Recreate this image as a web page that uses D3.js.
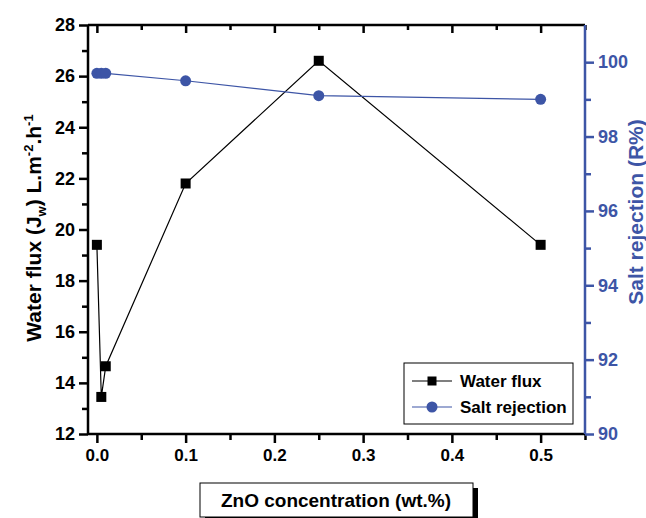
<!DOCTYPE html>
<html>
<head>
<meta charset="utf-8">
<script src="https://cdn.jsdelivr.net/npm/d3@7"></script>
<style>
  body { margin: 0; background: #fff; }
  text { font-family: "Liberation Sans", Arial, sans-serif; font-weight: bold; }
</style>
</head>
<body>
<div id="chart"></div>
<script>
// data
const conc = [0, 0.005, 0.01, 0.1, 0.25, 0.5];
const waterFlux = [19.4, 13.45, 14.65, 21.8, 26.6, 19.4];
const saltRejection = [99.7, 99.7, 99.7, 99.5, 99.1, 99.0];

const xTicks = [0, 0.1, 0.2, 0.3, 0.4, 0.5];
const xMinor = [0.05, 0.15, 0.25, 0.35, 0.45, 0.55];
const yLeftTicks = [12, 14, 16, 18, 20, 22, 24, 26, 28];
const yLeftMinor = [13, 15, 17, 19, 21, 23, 25, 27];
const yRightTicks = [90, 92, 94, 96, 98, 100];
const yRightMinor = [91, 93, 95, 97, 99];

const blue = "#3d55a6";
const W = 646, H = 518;
const margin = {top: 25, right: 61, bottom: 84, left: 88};
const width = W - margin.left - margin.right;
const height = H - margin.top - margin.bottom;

const svg = d3.select("#chart").append("svg")
    .attr("width", W)
    .attr("height", H);

const g = svg.append("g")
    .attr("transform", `translate(${margin.left},${margin.top})`);

const x = d3.scaleLinear().domain([-0.01, 0.55]).range([0, width]);
const yL = d3.scaleLinear().domain([12, 28]).range([height, 0]);
const yR = d3.scaleLinear().domain([90, 101]).range([height, 0]);

// axes: major + minor ticks
function styleAxis(sel, color) {
    sel.select(".domain").remove();
    sel.selectAll("line").attr("stroke", color).attr("stroke-width", 2.5);
    sel.selectAll("text").attr("fill", color);
}

// bottom
g.append("g").attr("transform", `translate(0,${height})`)
    .call(d3.axisBottom(x).tickValues(xMinor).tickSize(6).tickFormat(""))
    .call(s => styleAxis(s, "#000"));
g.append("g").attr("transform", `translate(0,${height})`)
    .call(d3.axisBottom(x).tickValues(xTicks).tickSize(9).tickPadding(6).tickFormat(d3.format(".1f")))
    .call(s => styleAxis(s, "#000"))
    .selectAll("text").style("font-size", "17px");

// top (inward ticks, no labels)
g.append("g")
    .call(d3.axisTop(x).tickValues(xMinor).tickSize(-5).tickFormat(""))
    .call(s => styleAxis(s, "#000"));
g.append("g")
    .call(d3.axisTop(x).tickValues(xTicks).tickSize(-8).tickFormat(""))
    .call(s => styleAxis(s, "#000"));

// left
g.append("g")
    .call(d3.axisLeft(yL).tickValues(yLeftMinor).tickSize(6).tickFormat(""))
    .call(s => styleAxis(s, "#000"));
g.append("g")
    .call(d3.axisLeft(yL).tickValues(yLeftTicks).tickSize(9).tickPadding(4).tickFormat(d3.format("d")))
    .call(s => styleAxis(s, "#000"))
    .selectAll("text").style("font-size", "18px");

// right
g.append("g").attr("transform", `translate(${width},0)`)
    .call(d3.axisRight(yR).tickValues(yRightMinor).tickSize(6).tickFormat(""))
    .call(s => styleAxis(s, blue));
g.append("g").attr("transform", `translate(${width},0)`)
    .call(d3.axisRight(yR).tickValues(yRightTicks).tickSize(9).tickPadding(4).tickFormat(d3.format("d")))
    .call(s => styleAxis(s, blue))
    .selectAll("text").style("font-size", "18px");

// frame lines
g.append("line").attr("x1", 0).attr("x2", width).attr("y1", 0).attr("y2", 0)
    .attr("stroke", "#000").attr("stroke-width", 2.5);
g.append("line").attr("x1", 0).attr("x2", width).attr("y1", height).attr("y2", height)
    .attr("stroke", "#000").attr("stroke-width", 2.5);
g.append("line").attr("x1", 0).attr("x2", 0).attr("y1", 0).attr("y2", height)
    .attr("stroke", "#000").attr("stroke-width", 2.5);
g.append("line").attr("x1", width).attr("x2", width).attr("y1", 0).attr("y2", height)
    .attr("stroke", blue).attr("stroke-width", 2.5);

// series
const fluxData = conc.map((c, i) => ({x: c, y: waterFlux[i]}));
const saltData = conc.map((c, i) => ({x: c, y: saltRejection[i]}));

g.append("path").datum(fluxData)
    .attr("fill", "none").attr("stroke", "#000").attr("stroke-width", 1.2)
    .attr("d", d3.line().x(d => x(d.x)).y(d => yL(d.y)));
g.selectAll(".sq").data(fluxData).enter().append("rect")
    .attr("class", "sq")
    .attr("x", d => x(d.x) - 5).attr("y", d => yL(d.y) - 5)
    .attr("width", 10).attr("height", 10)
    .attr("fill", "#000");

g.append("path").datum(saltData)
    .attr("fill", "none").attr("stroke", blue).attr("stroke-width", 1.2)
    .attr("d", d3.line().x(d => x(d.x)).y(d => yR(d.y)));
g.selectAll(".dot").data(saltData).enter().append("circle")
    .attr("class", "dot")
    .attr("cx", d => x(d.x)).attr("cy", d => yR(d.y))
    .attr("r", 5.5)
    .attr("fill", blue);

// legend
const leg = svg.append("g").attr("transform", "translate(404,363)");
leg.append("rect").attr("width", 169).attr("height", 61)
    .attr("fill", "#fff").attr("stroke", "#000").attr("stroke-width", 1);
const legItems = [
    {label: "Water flux", color: "#000", shape: "sq"},
    {label: "Salt rejection", color: blue, shape: "dot"}
];
legItems.forEach((it, i) => {
    const yy = 18 + i * 26;
    leg.append("line").attr("x1", 8).attr("x2", 48).attr("y1", yy).attr("y2", yy)
        .attr("stroke", it.color).attr("stroke-width", 1.2);
    if (it.shape === "sq") {
        leg.append("rect").attr("x", 28 - 4.5).attr("y", yy - 4.5)
            .attr("width", 9).attr("height", 9).attr("fill", it.color);
    } else {
        leg.append("circle").attr("cx", 28).attr("cy", yy).attr("r", 5.5).attr("fill", it.color);
    }
    leg.append("text").attr("x", 56).attr("y", yy + 6)
        .style("font-size", "17px").attr("fill", "#000").text(it.label);
});

// y axis titles
const leftTitle = svg.append("text")
    .attr("transform", `translate(41,228) rotate(-90)`)
    .attr("text-anchor", "middle")
    .style("font-size", "21px").attr("fill", "#000");
leftTitle.append("tspan").text("Water flux (J");
leftTitle.append("tspan").attr("dy", 5).style("font-size", "13px").text("w");
leftTitle.append("tspan").attr("dy", -5).text(") L.m");
leftTitle.append("tspan").attr("dy", -8).style("font-size", "13px").text("-2");
leftTitle.append("tspan").attr("dy", 8).text(".h");
leftTitle.append("tspan").attr("dy", -8).style("font-size", "13px").text("-1");

svg.append("text")
    .attr("transform", `translate(643,212) rotate(-90)`)
    .attr("text-anchor", "middle")
    .style("font-size", "21px").attr("fill", blue)
    .text("Salt rejection (R%)");

// x title in shadowed box
const xt = svg.append("g").attr("transform", "translate(200,483)");
xt.append("rect").attr("x", 5).attr("y", 5).attr("width", 273).attr("height", 34).attr("fill", "#000");
xt.append("rect").attr("width", 273).attr("height", 34)
    .attr("fill", "#fff").attr("stroke", "#000").attr("stroke-width", 1);
xt.append("text").attr("x", 136).attr("y", 24).attr("text-anchor", "middle")
    .style("font-size", "19px").attr("fill", "#000").text("ZnO concentration (wt.%)");
</script>
</body>
</html>
